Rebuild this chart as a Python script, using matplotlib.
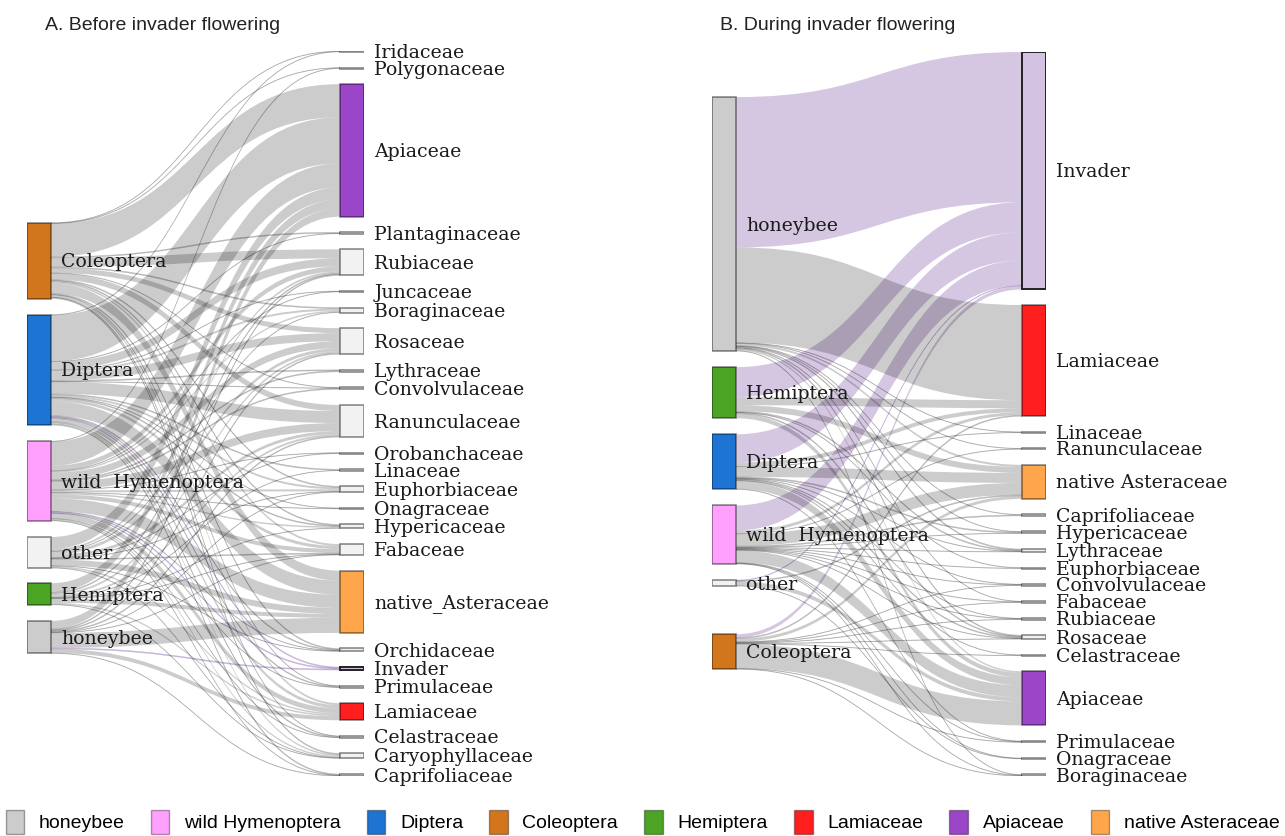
import numpy as np
import matplotlib.pyplot as plt
from matplotlib.path import Path
from matplotlib.patches import PathPatch, Rectangle, Patch

W, H = 1285, 836

# ---- A. before invader flowering
insects_a = ["Coleoptera", "Diptera", "wild  Hymenoptera", "other", "Hemiptera", "honeybee"]
plants_a = ["Iridaceae", "Polygonaceae", "Apiaceae", "Plantaginaceae", "Rubiaceae",
            "Juncaceae", "Boraginaceae", "Rosaceae", "Lythraceae", "Convolvulaceae",
            "Ranunculaceae", "Orobanchaceae", "Linaceae", "Euphorbiaceae", "Onagraceae",
            "Hypericaceae", "Fabaceae", "native_Asteraceae", "Orchidaceae", "Invader",
            "Primulaceae", "Lamiaceae", "Celastraceae", "Caryophyllaceae", "Caprifoliaceae"]
# one row per plant family, columns follow insects_a
visits_a = np.array([
    [0.5, 0.5, 0, 0, 0, 0],
    [0.5, 0, 0.5, 0, 0, 0],
    [33, 46, 24, 12, 9, 8],
    [1, 0.5, 0, 0, 0, 0],
    [9, 8, 5, 2, 1, 1],
    [0, 0.5, 0.5, 0, 0, 0],
    [1, 2, 1.5, 0.5, 0, 0],
    [5, 8, 7, 3, 2, 1],
    [0, 1, 1, 0, 0, 0],
    [0.5, 0.5, 1, 0, 0, 0],
    [6, 12, 8, 3, 2, 1],
    [0, 0, 0.5, 0.5, 0, 0],
    [0, 1, 0, 0, 0.5, 0],
    [1, 2, 2, 0.5, 0, 0.5],
    [0, 0.5, 0.5, 0, 0, 0],
    [1, 1, 1.5, 0, 0.5, 0],
    [2, 3, 4, 1, 0.5, 0.5],
    [10, 14, 13, 6, 4, 15],
    [1, 1, 0.5, 0.5, 0, 0],
    [0, 1, 1, 0, 0, 1],
    [0.5, 1, 0.5, 0, 0, 0],
    [2, 3, 5, 1.5, 1.5, 4],
    [0.5, 1, 0.5, 0, 0, 0],
    [1, 1.5, 1.5, 0.5, 0.5, 0],
    [0, 1, 0.5, 0, 0, 0.5],
])

# ---- B. during invader flowering
insects_b = ["honeybee", "Hemiptera", "Diptera", "wild  Hymenoptera", "other", "Coleoptera"]
plants_b = ["Invader", "Lamiaceae", "Linaceae", "Ranunculaceae", "native Asteraceae",
            "Caprifoliaceae", "Hypericaceae", "Lythraceae", "Euphorbiaceae", "Convolvulaceae",
            "Fabaceae", "Rubiaceae", "Rosaceae", "Celastraceae", "Apiaceae",
            "Primulaceae", "Onagraceae", "Boraginaceae"]
visits_b = np.array([
    [150, 30, 28, 25, 0.5, 3.5],
    [95, 8, 4, 3, 0, 1],
    [0.5, 0, 0.5, 0, 0, 0],
    [0.5, 0, 0, 0.5, 0, 0],
    [2, 6, 10, 12, 1, 3],
    [0.5, 0, 0, 1, 0, 0],
    [0.5, 0, 1, 0.5, 0, 0],
    [1, 1, 0.5, 0.5, 0, 0],
    [0, 0.5, 0, 0.5, 0, 0],
    [0, 0, 0.5, 0.5, 0, 0.5],
    [0.5, 0, 0, 0.5, 0, 0.5],
    [0, 0, 0.5, 0.5, 0, 0.5],
    [1, 1, 1, 0.5, 0, 0.5],
    [0, 0, 0.5, 0, 0, 0.5],
    [1.5, 4.5, 8, 12, 4, 24],
    [0, 0, 0.5, 0.5, 0, 0.5],
    [0, 0, 0, 0.5, 0.5, 0],
    [0.5, 0, 0, 0.5, 0, 0.5],
])

colors = {"honeybee": "#cccccc", "wild  Hymenoptera": "#ffa0ff", "Diptera": "#1e74d2",
          "Coleoptera": "#d2761e", "Hemiptera": "#4ba424", "Lamiaceae": "#ff1f1f",
          "Apiaceae": "#9b46c8", "native_Asteraceae": "#ffa64c",
          "native Asteraceae": "#ffa64c", "Invader": "#d3c2e1"}
legend_names = ["honeybee", "wild Hymenoptera", "Diptera", "Coleoptera", "Hemiptera",
                "Lamiaceae", "Apiaceae", "native Asteraceae"]
legend_cols = ["#cccccc", "#ffa0ff", "#1e74d2", "#d2761e", "#4ba424", "#ff1f1f",
               "#9b46c8", "#ffa64c"]

serif = ["DejaVu Serif"]
narrow = ["Liberation Sans Narrow", "Liberation Sans", "DejaVu Sans"]


def band(ax, xa, xb, s0, t0, f, col):
    xm = (xa + xb) / 2
    verts = [(xa, s0), (xm, s0), (xm, t0), (xb, t0), (xb, t0 + f),
             (xm, t0 + f), (xm, s0 + f), (xa, s0 + f), (xa, s0)]
    codes = [Path.MOVETO, Path.CURVE4, Path.CURVE4, Path.CURVE4, Path.LINETO,
             Path.CURVE4, Path.CURVE4, Path.CURVE4, Path.CLOSEPOLY]
    # thin links get a hairline so they stay visible, as in the original
    ec, lw = (col, 0.4) if f < 1.5 else ("none", 0)
    ax.add_patch(PathPatch(Path(verts, codes), facecolor=col, edgecolor=ec, lw=lw, zorder=1))


def node(ax, x, y, w, h, name):
    if name == "Invader":
        ec, lw = "#222222", 1.4
    else:
        ec, lw = (0, 0, 0, 0.45), 1.2
    ax.add_patch(Rectangle((x, y), w, h, facecolor=colors.get(name, "#f2f2f2"),
                           edgecolor=ec, lw=lw, zorder=3))
    ax.annotate(name, (x + w, y + h / 2), xytext=(7.5, -4.7), textcoords="offset points",
                va="baseline", ha="left", family=serif, fontsize=13.6, zorder=4,
                color="#1a1a1a")


def panel(box, left, right, visits, left_top, left_gaps, pad):
    x0, x1, y0, y1 = box
    ax = fig.add_axes([x0 / W, 1 - y1 / H, (x1 - x0) / W, (y1 - y0) / H])
    ax.axis("off")
    lsize = visits.sum(axis=0)
    rsize = visits.sum(axis=1)
    ry = np.concatenate([[0], np.cumsum(rsize[:-1] + pad)])
    ly = left_top + np.concatenate([[0], np.cumsum(lsize[:-1] + np.array(left_gaps))])
    total = ry[-1] + rsize[-1]
    ax.set_xlim(0, 1)
    ax.set_ylim(total, 0)
    nw = 24 / (x1 - x0)
    src_off = np.cumsum(visits, axis=0) - visits
    dst_off = np.cumsum(visits, axis=1) - visits
    for i in range(len(right)):
        for j in range(len(left)):
            f = visits[i, j]
            if f <= 0:
                continue
            col = (0.46, 0.27, 0.63, 0.3) if right[i] == "Invader" else (0, 0, 0, 0.2)
            band(ax, nw, 1 - nw, ly[j] + src_off[i, j], ry[i] + dst_off[i, j], f, col)
    for j, n in enumerate(left):
        node(ax, 0, ly[j], nw, lsize[j], n)
    for i, n in enumerate(right):
        node(ax, 1 - nw, ry[i], nw, rsize[i], n)


fig = plt.figure(figsize=(W / 100, H / 100), dpi=100)

panel((27, 364, 51, 776), insects_a, plants_a, visits_a, 171, [16, 16, 16, 15, 16], 15.5)
panel((712, 1046, 52, 776), insects_b, plants_b, visits_b, 45, [16, 16, 16, 16, 48], 15.5)

fig.text(45 / W, 1 - 30 / H, "A. Before invader flowering", family=narrow, fontsize=14,
         va="baseline", color="#222222")
fig.text(720 / W, 1 - 30 / H, "B. During invader flowering", family=narrow, fontsize=14,
         va="baseline", color="#222222")

handles = [Patch(facecolor=c, edgecolor=(0, 0, 0, 0.35), label=n)
           for n, c in zip(legend_names, legend_cols)]
fig.legend(handles=handles, ncol=8, loc="lower center", bbox_to_anchor=(0.5, -0.018),
           frameon=False, prop={"family": narrow, "size": 14}, handlelength=0.95,
           handleheight=1.5, columnspacing=1.35, handletextpad=0.75)

fig.savefig("out.png", dpi=100)
